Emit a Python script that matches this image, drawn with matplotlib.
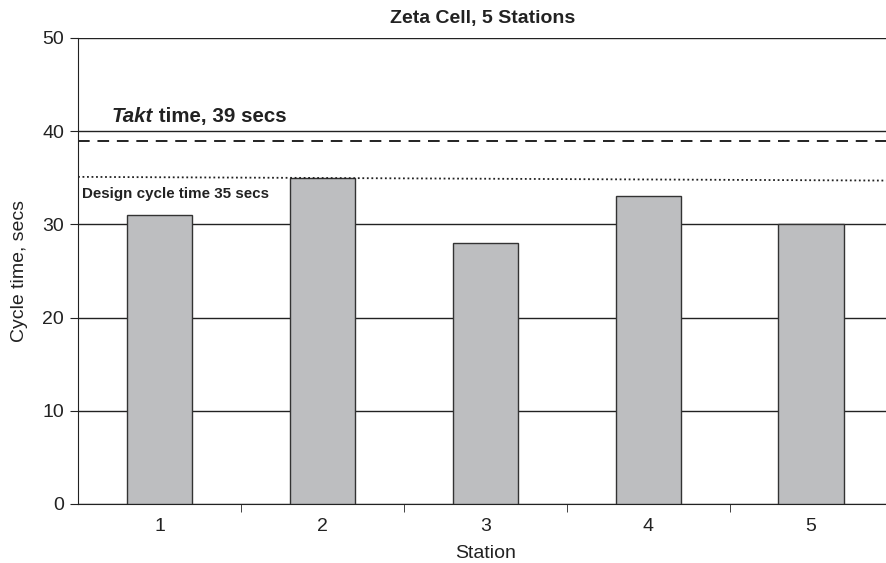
import matplotlib.pyplot as plt

plt.rcParams['font.family'] = ['Liberation Sans', 'DejaVu Sans']

stations = [1, 2, 3, 4, 5]
cycle_times = [31, 35, 28, 33, 30]
takt_time = 39
design_cycle = [35.1, 34.7]  # dotted line, drawn slightly slanted in the original

fig = plt.figure(figsize=(8.86, 5.63), dpi=100)
ax = fig.add_axes([78 / 886, 59 / 563, (892.5 - 78) / 886, (504 - 38) / 563])

ax.set_axisbelow(True)
ax.yaxis.grid(True, color='#222222', linewidth=1.0)
ax.bar(stations, cycle_times, width=0.4, color='#bdbec0', edgecolor='#333333',
       linewidth=1.0, zorder=3)

ax.plot([0.5, 5.5], [takt_time, takt_time], color='#222222', linestyle=(0, (6, 4)),
        linewidth=1.4, zorder=4)
ax.plot([0.5, 5.5], design_cycle, color='#222222', linestyle=(0, (1, 1.5)),
        linewidth=1.3, zorder=4)

# "Takt" in bold italic, rest of the label in bold right after it
t1 = ax.text(0.705, 40.95, 'Takt', fontsize=14.8, fontweight='bold',
             fontstyle='italic', va='baseline', ha='left', color='#222222')
ax.annotate(' time, 39 secs', xy=(1, 0), xycoords=t1, fontsize=14.8,
            fontweight='bold', va='bottom', ha='left', color='#222222')
ax.text(0.525, 33.3, 'Design cycle time 35 secs', fontsize=10.9, fontweight='bold',
        va='center', ha='left', color='#222222')

ax.set_xlim(0.5, 5.5)
ax.set_ylim(0, 50)
ax.set_yticks([0, 10, 20, 30, 40, 50])
ax.set_xticks(stations)
ax.set_xticks([1.5, 2.5, 3.5, 4.5], minor=True)
ax.tick_params(axis='x', which='major', length=0, pad=10, labelsize=14, labelcolor='#222222')
ax.tick_params(axis='x', which='minor', length=6, direction='out', color='#222222')
ax.tick_params(axis='y', length=6, direction='out', color='#222222', labelsize=14,
               pad=4, labelcolor='#222222')

for s in ['top', 'right']:
    ax.spines[s].set_visible(False)
for s in ['left', 'bottom']:
    ax.spines[s].set_color('#222222')

ax.set_xlabel('Station', fontsize=14, labelpad=7, color='#222222')
ax.set_ylabel('Cycle time, secs', fontsize=14, labelpad=10, color='#222222')
fig.text(483 / 886, 1 - 18 / 563, 'Zeta Cell, 5 Stations', fontsize=14,
         fontweight='bold', ha='center', va='center', color='#222222')

fig.savefig('out.png', dpi=100)
